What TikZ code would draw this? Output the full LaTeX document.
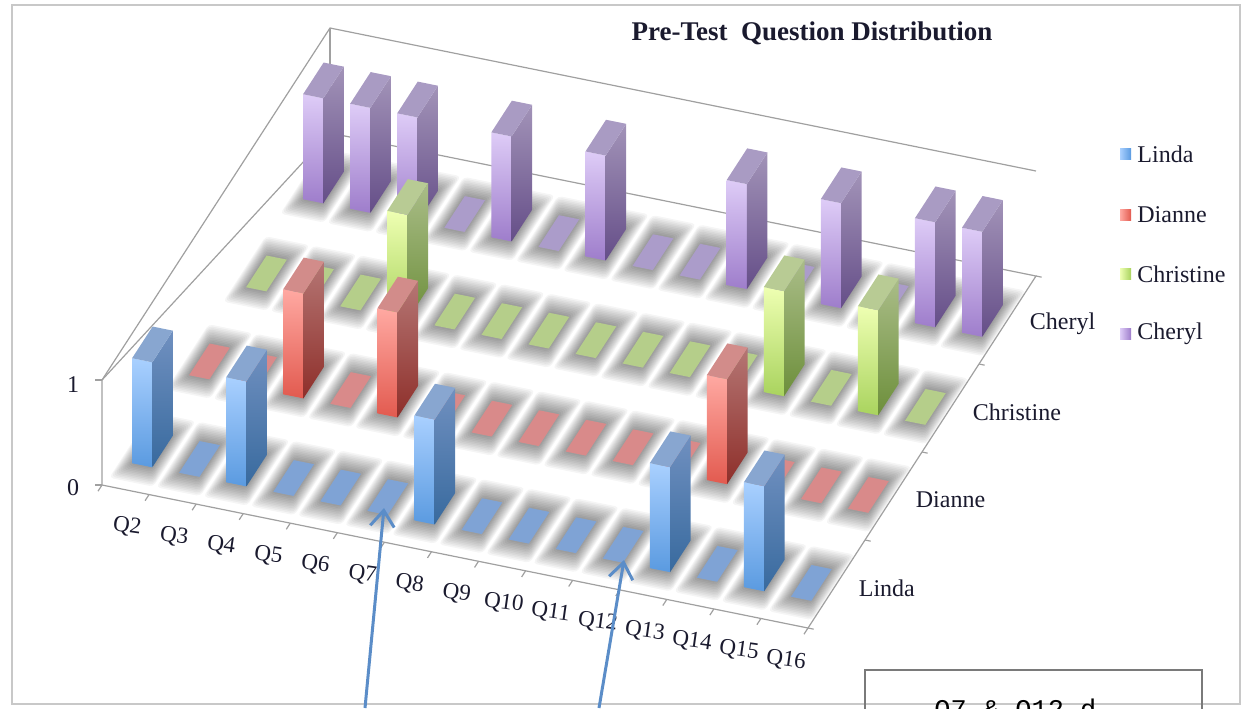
\documentclass[tikz,border=0pt]{standalone}
\usepackage{fontspec}
\setmainfont{Liberation Serif}
\newfontfamily\notefont{Liberation Mono}
\usetikzlibrary{arrows.meta,calc}
% Linda
\definecolor{Lft}{HTML}{A9D0FF}\definecolor{Lfb}{HTML}{5A9AE0}
\definecolor{Lst}{HTML}{7090C0}\definecolor{Lsb}{HTML}{386A9E}
\definecolor{Ltp}{HTML}{88A6D0}\definecolor{Lfl}{HTML}{7FA3D5}
% Dianne
\definecolor{Dft}{HTML}{FFA9A2}\definecolor{Dfb}{HTML}{E25A4F}
\definecolor{Dst}{HTML}{B57674}\definecolor{Dsb}{HTML}{8E2F2A}
\definecolor{Dtp}{HTML}{D28C8A}\definecolor{Dfl}{HTML}{D98A8A}
% Christine
\definecolor{Xft}{HTML}{EEFFB2}\definecolor{Xfb}{HTML}{A9D35E}
\definecolor{Xst}{HTML}{AABD88}\definecolor{Xsb}{HTML}{6D8F3B}
\definecolor{Xtp}{HTML}{B8CB94}\definecolor{Xfl}{HTML}{B5CE8A}
% Cheryl
\definecolor{Cft}{HTML}{DECCF7}\definecolor{Cfb}{HTML}{9E7DCB}
\definecolor{Cst}{HTML}{A293B8}\definecolor{Csb}{HTML}{654E88}
\definecolor{Ctp}{HTML}{A99BC3}\definecolor{Cfl}{HTML}{AB9CCA}
\definecolor{edgec}{HTML}{A0A0A0}
\definecolor{framec}{HTML}{C8C8C8}
\definecolor{txtc}{HTML}{1A1A2E}
\definecolor{arrc}{HTML}{5B8DC8}
\definecolor{boxc}{HTML}{7A7A7A}

\newcommand\shadowcell[2]{%
  \foreach \k in {1,...,12}{%
    \pgfmathsetmacro\xa{#1+0.30-0.021*\k}%
    \pgfmathsetmacro\xb{#1+0.73+0.021*\k}%
    \pgfmathsetmacro\ya{#2+0.28-0.016*\k}%
    \pgfmathsetmacro\yb{#2+0.64+0.016*\k}%
    \fill[black,opacity=0.04,rounded corners=2pt] (\xa,\ya,0)--(\xb,\ya,0)--(\xb,\yb,0)--(\xa,\yb,0)--cycle;}}
\newcommand\flatcell[3]{%
  \pgfmathsetmacro\xa{#1+0.30}\pgfmathsetmacro\xb{#1+0.73}%
  \pgfmathsetmacro\ya{#2+0.28}\pgfmathsetmacro\yb{#2+0.64}%
  \fill[#3fl] (\xa,\ya,0)--(\xb,\ya,0)--(\xb,\yb,0)--(\xa,\yb,0)--cycle;}
\newcommand\barcell[3]{%
  \pgfmathsetmacro\xa{#1+0.30}\pgfmathsetmacro\xb{#1+0.73}%
  \pgfmathsetmacro\ya{#2+0.28}\pgfmathsetmacro\yb{#2+0.64}%
  \shade[top color=#3ft,bottom color=#3fb] (\xa,\ya,0)--(\xb,\ya,0)--(\xb,\ya,1)--(\xa,\ya,1)--cycle;
  \shade[top color=#3st,bottom color=#3sb] (\xb,\ya,0)--(\xb,\yb,0)--(\xb,\yb,1)--(\xb,\ya,1)--cycle;
  \fill[#3tp] (\xa,\ya,1)--(\xb,\ya,1)--(\xb,\yb,1)--(\xa,\yb,1)--cycle;}
\newcommand\drawrow[3]{%
  \foreach \v [count=\c from 0] in {#3}{\shadowcell{\c}{#1}}
  \foreach \v [count=\c from 0] in {#3}{\ifnum\v=0 \flatcell{\c}{#1}{#2}\fi}
  \foreach \v [count=\c from 0] in {#3}{\ifnum\v=1 \barcell{\c}{#1}{#2}\fi}}

\begin{document}
\begin{tikzpicture}[x=0.5pt,y=-0.5pt,
  edge/.style={edgec,line width=0.6pt},
  qlab/.style={text=txtc,font=\fontsize{11.5}{13}\selectfont,inner sep=0pt},
  serlab/.style={text=txtc,font=\fontsize{12}{14}\selectfont,inner sep=0pt,anchor=west},
  leglab/.style={text=txtc,font=\fontsize{12}{14}\selectfont,inner sep=0pt,anchor=west},
  vallab/.style={text=txtc,font=\fontsize{12}{14}\selectfont,inner sep=0pt},
  callout/.style={arrc,line width=1.5pt,-{Straight Barb[length=8pt,width=12pt]}}]
\useasboundingbox (0,0) rectangle (1246,708);
\clip (0,0) rectangle (1246,708);
\draw[framec,line width=1.1pt] (12,5) rectangle (1240,704);

\begin{scope}[shift={(51pt,-242.5pt)},x={(23.533pt,-4.767pt)},y={(28.5pt,44pt)},z={(0pt,52.5pt)}]
  % walls and floor outline
  \draw[edge] (0,0,1)--(0,0,0)--(15,0,0)--(15,4,0)--(0,4,0)--cycle;
  \draw[edge] (0,0,1)--(0,4,1)--(15,4,1);
  \draw[edge] (0,4,0)--(0,4,1);
  \draw[edge] (0,0,1)--++(-3.5pt,0pt);
  \draw[edge] (0,0,0)--++(-3.5pt,0pt);
  \foreach \t in {0,...,15}{\draw[edge] (\t,0,0)--(\t,-0.07,0);}
  \foreach \t in {0,...,4}{\draw[edge] (15,\t,0)--(15.12,\t,0);}
  % series rows, back to front
  \drawrow{3}{C}{1,1,1,0,1,0,1,0,0,1,0,1,0,1,1}
  \drawrow{2}{X}{0,0,0,1,0,0,0,0,0,0,0,1,0,1,0}
  \drawrow{1}{D}{0,0,1,0,1,0,0,0,0,0,0,1,0,0,0}
  \drawrow{0}{L}{1,0,1,0,0,0,1,0,0,0,0,1,0,1,0}
  % value axis labels
  \node[vallab] (v1) at (0,0,1) [xshift=-14.5pt,yshift=-2.5pt] {1};
  \node[vallab] (v0) at (0,0,0) [xshift=-14.5pt,yshift=-1.5pt] {0};
  % category labels
  \foreach \q [count=\c from 0] in {2,...,16}{
    \node[qlab] (q\q) at (\c+0.5,0,0) [xshift=0.8pt,yshift=-18.5pt,rotate=-8] {Q\q};}
  % series labels
  \node[serlab] (sL) at (15,0.5,0) [xshift=11pt,yshift=-2pt] {Linda};
  \node[serlab] (sD) at (15,1.5,0) [xshift=11pt,yshift=-2pt] {Dianne};
  \node[serlab] (sX) at (15,2.5,0) [xshift=11pt,yshift=-2pt] {Christine};
  \node[serlab] (sC) at (15,3.5,0) [xshift=11pt,yshift=-2pt] {Cheryl};
\end{scope}

% title
\node[text=txtc,font=\fontsize{13.5}{16}\selectfont\bfseries] (title) at (812,33) {Pre-Test\ \ Question Distribution};

% legend
\shade[left color=Lft,right color=Lfb] (1120,148) rectangle (1131,159);
\node[leglab] (gL) at (1137,154) {Linda};
\shade[left color=Dft,right color=Dfb] (1120,209) rectangle (1131,220);
\node[leglab] (gD) at (1137,215) {Dianne};
\shade[left color=Xft,right color=Xfb] (1120,268) rectangle (1131,279);
\node[leglab] (gX) at (1137,274) {Christine};
\shade[left color=Cft,right color=Cfb] (1120,328) rectangle (1131,339);
\node[leglab] (gC) at (1137,334) {Cheryl};

% call-out arrows
\coordinate (tipA) at (384,508);
\coordinate (tipB) at (624,560);
\coordinate (baseA) at (365,708);
\coordinate (baseB) at (599,708);
\draw[callout] (baseA) -- (tipA);
\draw[callout] (baseB) -- (tipB);

% text box (cut by the page edge, as in the reference)
\draw[boxc,line width=0.8pt] (865,712) -- (865,670) -- (1202,670) -- (1202,712);
\node[anchor=north west,inner sep=0pt,text=black,font=\notefont\fontsize{13.5}{15}\selectfont] (note) at (934,699) {Q7 \& Q12 d};
\end{tikzpicture}
\end{document}
